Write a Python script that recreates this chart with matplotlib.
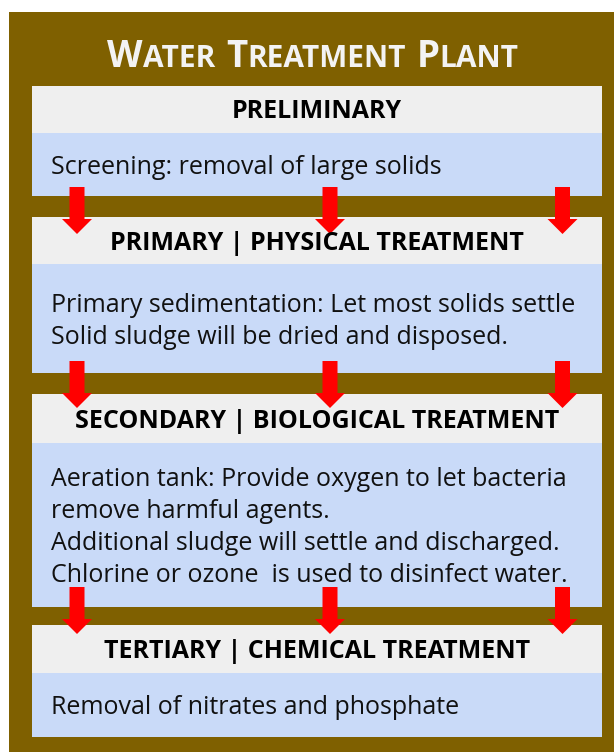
import matplotlib
matplotlib.use("Agg")
import matplotlib.pyplot as plt
from matplotlib.patches import Rectangle, FancyArrow

# content
title_parts = [("W", True), ("ATER", False), ("T", True), ("REATMENT", False), ("P", True), ("LANT", False)]
title_words = [[0, 1], [2, 3], [4, 5]]

stage_titles = [
    "PRELIMINARY",
    "PRIMARY | PHYSICAL TREATMENT",
    "SECONDARY | BIOLOGICAL TREATMENT",
    "TERTIARY | CHEMICAL TREATMENT",
]
stage_lines = [
    ["Screening: removal of large solids"],
    ["Primary sedimentation: Let most solids settle",
     "Solid sludge will be dried and disposed."],
    ["Aeration tank: Provide oxygen to let bacteria",
     "remove harmful agents.",
     "Additional sludge will settle and discharged.",
     "Chlorine or ozone  is used to disinfect water."],
    ["Removal of nitrates and phosphate"],
]

# layout (pixels)
W, H = 614, 752
header_top = [86, 217, 394, 625]
header_bot = [133, 264, 443, 673]
body_bot = [196, 373, 607, 737]
panel_x0, panel_x1 = 32, 602
arrow_x = [77, 330, 562.5]
arrow_top = [187, 361, 587]
arrow_tip = [234, 408, 634]
line_gap = 32

brown = "#7f6000"
grey = "#efefef"
blue = "#c9daf8"
red = "#ff0000"

fig = plt.figure(figsize=(W / 100, H / 100), dpi=100)
ax = fig.add_axes([0, 0, 1, 1])
ax.set_xlim(0, W)
ax.set_ylim(H, 0)
ax.axis("off")

ax.add_patch(Rectangle((9, 12), W - 9, H - 12, color=brown, lw=0))

font = "Open Sans"

for i in range(4):
    ax.add_patch(Rectangle((panel_x0, header_top[i]), panel_x1 - panel_x0,
                           header_bot[i] - header_top[i], color=grey, lw=0))
    ax.add_patch(Rectangle((panel_x0, header_bot[i]), panel_x1 - panel_x0,
                           body_bot[i] - header_bot[i], color=blue, lw=0))
    ax.text((panel_x0 + panel_x1) / 2, (header_top[i] + header_bot[i]) / 2 + 9,
            stage_titles[i], ha="center", va="baseline", fontsize=18,
            fontweight="bold", family=font, color="black")
    n = len(stage_lines[i])
    mid = (header_bot[i] + body_bot[i]) / 2
    y0 = mid - (n - 1) * line_gap / 2 + 9
    for k, line in enumerate(stage_lines[i]):
        ax.text(51, y0 + k * line_gap, line, ha="left", va="baseline",
                fontsize=18, family=font, color="#111111")

for j in range(3):
    for x in arrow_x:
        ax.add_patch(FancyArrow(x, arrow_top[j], 0, arrow_tip[j] - arrow_top[j],
                                width=15, head_width=30, head_length=15,
                                length_includes_head=True, color=red, lw=0))

# small caps title
renderer = fig.canvas.get_renderer()
texts = []
for s, big in title_parts:
    t = ax.text(0, 67, s, fontsize=26.5 if big else 21.5, fontweight="bold",
                family=font, color="#f3f3f3", ha="left", va="baseline")
    texts.append(t)
widths = [t.get_window_extent(renderer).width for t in texts]
space = 11
total = sum(widths) + space * (len(title_words) - 1)
x = 313 - total / 2
for wi, word in enumerate(title_words):
    for idx in word:
        texts[idx].set_x(x)
        x += widths[idx]
    x += space

fig.savefig("out.png", dpi=100)
